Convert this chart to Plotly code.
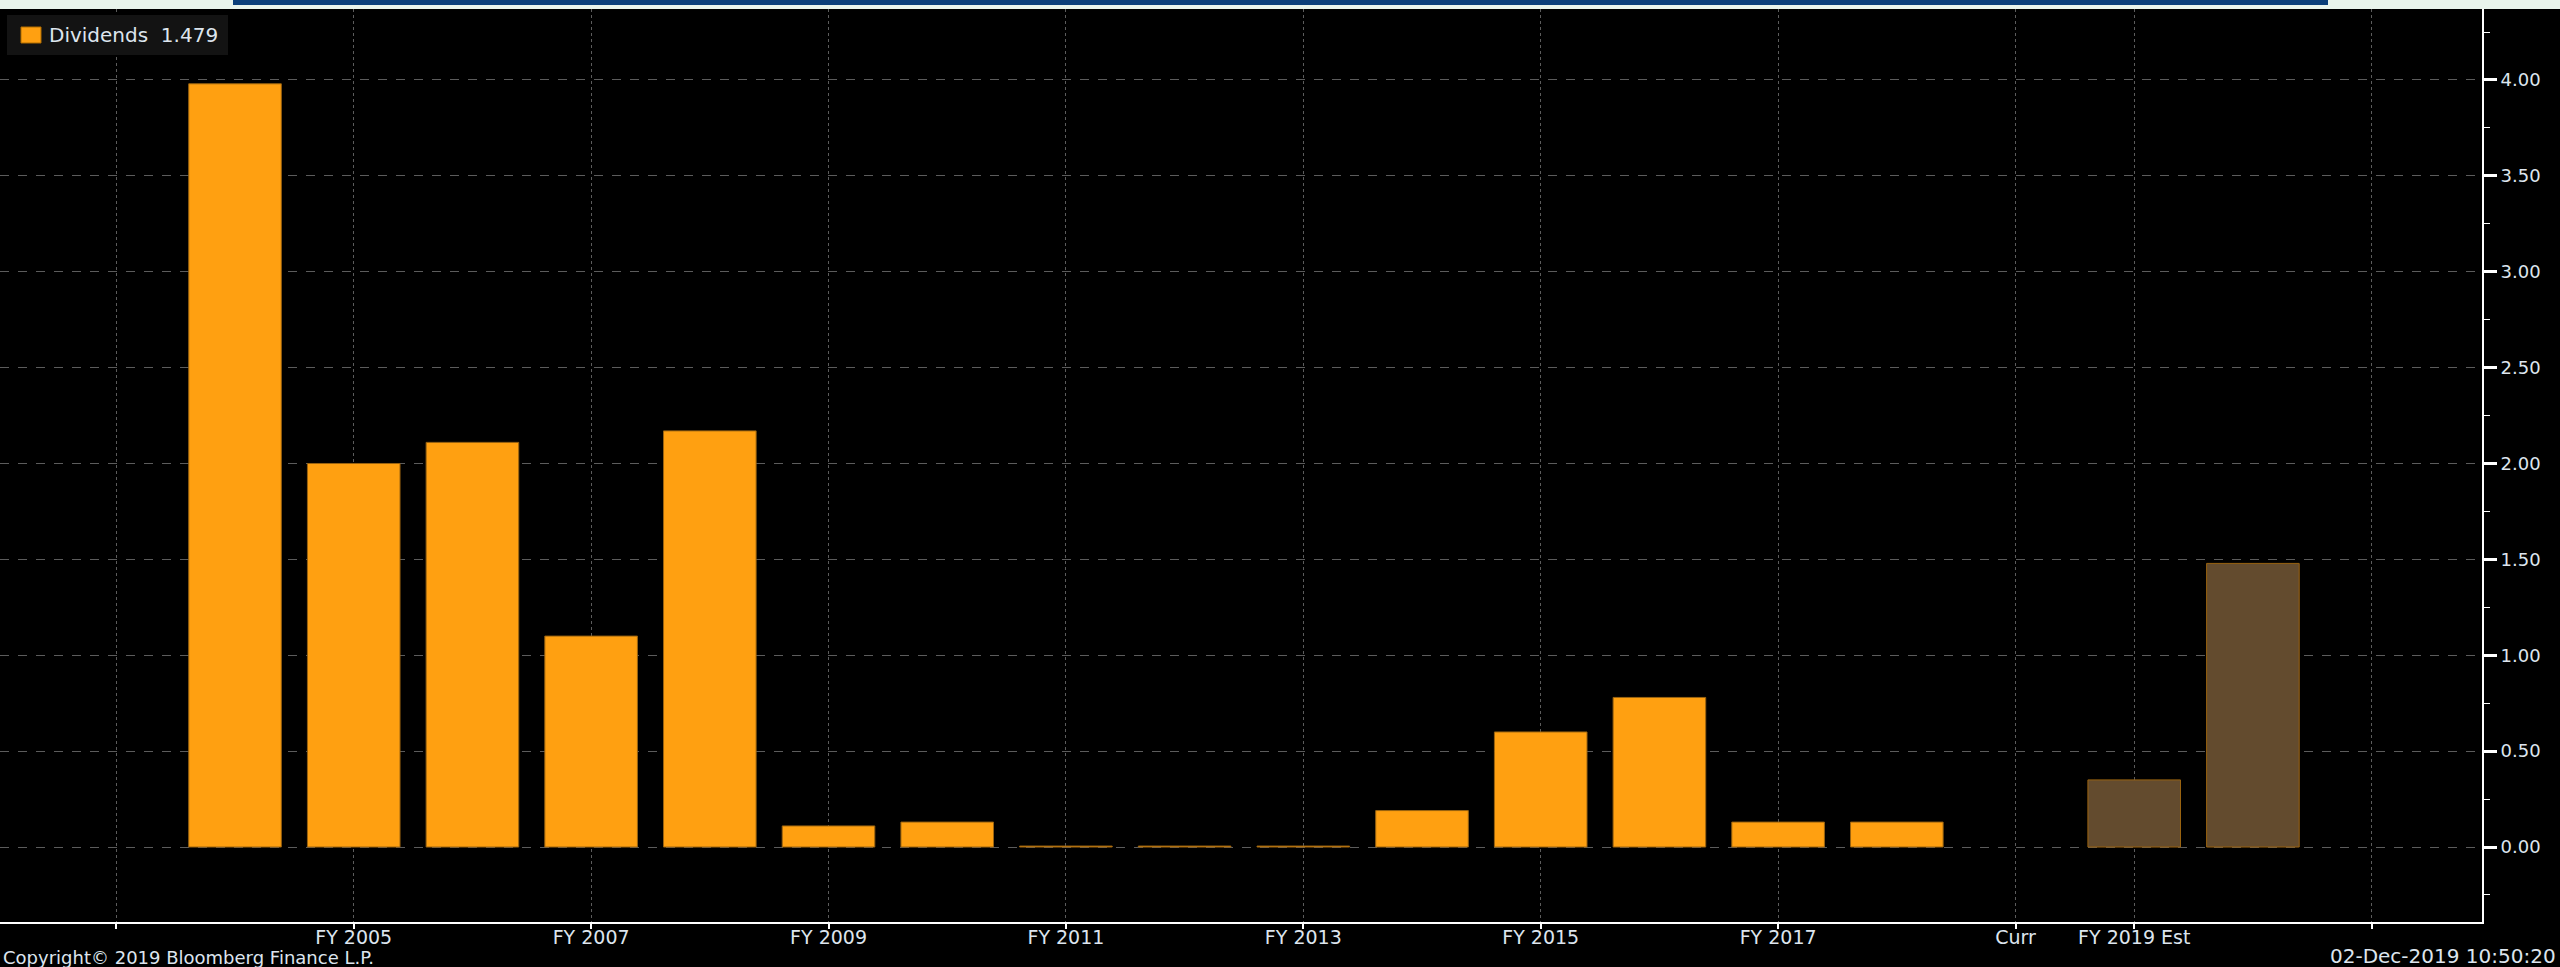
import plotly.graph_objects as go

# slots on the x axis (Bloomberg inserts a "Curr" slot before the estimates)
periods = ["FY 2003", "FY 2004", "FY 2005", "FY 2006", "FY 2007", "FY 2008",
           "FY 2009", "FY 2010", "FY 2011", "FY 2012", "FY 2013", "FY 2014",
           "FY 2015", "FY 2016", "FY 2017", "FY 2018", "Curr",
           "FY 2019 Est", "FY 2020 Est", "FY 2021 Est"]
dividends = [None, 3.98, 2.00, 2.11, 1.10, 2.17, 0.11, 0.13, 0.005, 0.005,
             0.005, 0.19, 0.60, 0.78, 0.13, 0.13, None, 0.35, 1.479, None]

tick_periods = ["FY 2003", "FY 2005", "FY 2007", "FY 2009", "FY 2011", "FY 2013",
                "FY 2015", "FY 2017", "Curr", "FY 2019 Est", "FY 2021 Est"]
tick_labels = ["", "FY 2005", "FY 2007", "FY 2009", "FY 2011", "FY 2013",
               "FY 2015", "FY 2017", "Curr", "FY 2019 Est", ""]

ORANGE = "#ffa011"
BROWN = "#634b2e"
bar_colors = [BROWN if "Est" in p else ORANGE for p in periods]

W, H = 2560, 967
ML, MR, MT, MB = 0, 78, 9, 45
PW, PH = W - ML - MR, H - MT - MB

def px_x(x):
    return (x - ML) / PW

def px_y(y):
    return 1 - (y - MT) / PH

fig = go.Figure(go.Bar(
    x=periods, y=dividends,
    marker=dict(color=bar_colors, line=dict(color="#9a6310", width=1)),
    width=0.78, showlegend=False,
))

font = "DejaVu Sans"
txt = "#dde5ee"

fig.update_layout(
    width=W, height=H,
    margin=dict(l=ML, r=MR, t=MT, b=MB),
    paper_bgcolor="black", plot_bgcolor="black",
    font=dict(family=font, size=18, color=txt),
    xaxis=dict(
        type="category", categoryorder="array", categoryarray=periods,
        range=[-0.98, 19.93],
        tickmode="array", tickvals=tick_periods, ticktext=tick_labels,
        showgrid=True, gridcolor="#5c5c5c", griddash="dot", gridwidth=1,
        showline=True, linecolor="white", linewidth=2,
        ticks="outside", ticklen=5, tickwidth=2, tickcolor="white",
        ticklabelstandoff=-8,
        tickfont=dict(family=font, size=19, color=txt),
        zeroline=False,
    ),
    yaxis=dict(
        side="right", range=[-0.391, 4.37],
        tickmode="linear", tick0=0, dtick=0.5, tickformat=".2f",
        showgrid=True, gridcolor="#5c5c5c", griddash="dash", gridwidth=1,
        showline=True, linecolor="white", linewidth=2,
        ticks="outside", ticklen=13, tickwidth=3, tickcolor="white",
        minor=dict(dtick=0.25, ticks="outside", ticklen=6, tickwidth=1,
                   tickcolor="white", showgrid=False),
        tickfont=dict(family=font, size=18, color=txt),
        zeroline=False,
    ),
)

shapes = [
    # light strip across the very top
    dict(type="rect", xref="paper", yref="paper", x0=px_x(0), x1=px_x(W),
         y0=px_y(MT), y1=px_y(0), fillcolor="#e9f4ec", line=dict(width=0)),
    dict(type="rect", xref="paper", yref="paper", x0=px_x(233), x1=px_x(2328),
         y0=px_y(5), y1=px_y(0), fillcolor="#0b3f7a", line=dict(width=0)),
    # legend box
    dict(type="rect", xref="paper", yref="paper", x0=px_x(7), x1=px_x(228),
         y0=px_y(55), y1=px_y(15), fillcolor="#131313", line=dict(width=0)),
    dict(type="rect", xref="paper", yref="paper", x0=px_x(21), x1=px_x(41),
         y0=px_y(43), y1=px_y(27), fillcolor=ORANGE,
         line=dict(color="#b06d00", width=1)),
]
fig.update_layout(shapes=shapes)

fig.add_annotation(xref="paper", yref="paper", x=px_x(47), y=px_y(35),
                   xanchor="left", yanchor="middle", showarrow=False,
                   text=f"Dividends  {dividends[-2]:.3f}",
                   font=dict(family=font, size=20, color=txt))
fig.add_annotation(xref="paper", yref="paper", x=px_x(1), y=px_y(957),
                   xanchor="left", yanchor="middle", showarrow=False,
                   text="Copyright\u00a9 2019 Bloomberg Finance L.P.",
                   font=dict(family=font, size=18, color=txt))
fig.add_annotation(xref="paper", yref="paper", x=px_x(2558), y=px_y(956),
                   xanchor="right", yanchor="middle", showarrow=False,
                   text="02-Dec-2019 10:50:20",
                   font=dict(family=font, size=20, color=txt))

fig.write_html("out.html", config={"displayModeBar": False},
               post_script="document.body.style.margin='0';")
